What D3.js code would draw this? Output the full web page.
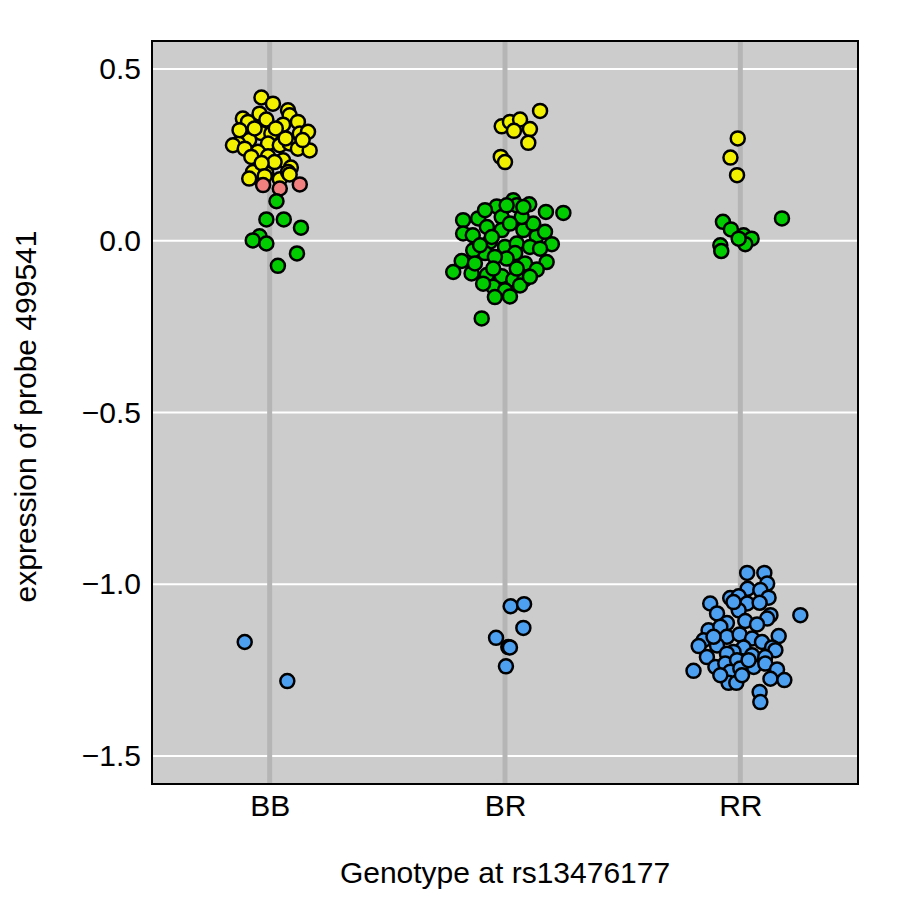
<!DOCTYPE html>
<html><head><meta charset="utf-8">
<script src="https://cdn.jsdelivr.net/npm/d3@7"></script>
<style>body{margin:0;background:#fff}</style>
</head><body>
<svg id="chart" width="900" height="900"></svg>
<script>
const genotypes = ["BB","BR","RR"];
const yTicks = [0.5, 0.0, -0.5, -1.0, -1.5];
const yTickLabels = ["0.5","0.0","\u22120.5","\u22121.0","\u22121.5"];
const xTitle = "Genotype at rs13476177";
const yTitle = "expression of probe 499541";
const groupColors = {yellow:"#f2f200", pink:"#f08080", green:"#00cc00", blue:"#4d9ff0"};

// each point: [genotype, jitter offset, expression]
const yellowPts = [
["BB",-0.035,0.417],["BB",0.014,0.399],["BB",0.078,0.380],["BB",0.085,0.365],["BB",-0.114,0.356],
["BB",-0.092,0.346],["BB",-0.043,0.370],["BB",-0.014,0.353],["BB",0.057,0.338],["BB",0.120,0.346],
["BB",0.128,0.312],["BB",0.163,0.317],["BB",-0.037,0.314],["BB",0.007,0.312],["BB",-0.087,0.293],
["BB",-0.134,0.283],["BB",-0.156,0.278],["BB",-0.007,0.283],["BB",0.043,0.278],["BB",0.085,0.283],
["BB",0.120,0.268],["BB",0.170,0.263],["BB",-0.106,0.268],["BB",-0.050,0.259],["BB",-0.078,0.244],
["BB",-0.007,0.246],["BB",0.057,0.234],["BB",0.021,0.229],["BB",0.090,0.213],["BB",-0.071,0.200],
["BB",-0.014,0.196],["BB",0.043,0.179],["BB",-0.087,0.181],["BB",0.078,0.200],["BB",0.026,0.327],
["BB",-0.064,0.327],["BB",0.068,0.298],["BB",-0.034,0.226],["BB",0.140,0.293],["BB",-0.128,0.322],
["BB",-0.021,0.188],["BB",0.085,0.193],
["BR",0.149,0.378],["BR",-0.014,0.333],["BR",0.021,0.346],["BR",0.064,0.353],["BR",0.038,0.320],
["BR",0.106,0.325],["BR",0.099,0.285],["BR",-0.018,0.244],["BR",0.000,0.229],
["RR",-0.011,0.298],["RR",-0.042,0.242],["RR",-0.014,0.191]
];
const pinkPts = [
["BB",-0.028,0.162],["BB",0.043,0.152],["BB",0.128,0.164]
];
const greenPts = [
["BB",0.029,0.115],["BB",-0.014,0.062],["BB",0.060,0.062],["BB",0.133,0.038],["BB",-0.043,0.013],
["BB",-0.072,0.001],["BB",-0.014,-0.008],["BB",0.116,-0.037],["BB",0.035,-0.073],
["BR",-0.099,-0.226],["BR",0.248,0.081],["BR",0.174,0.084],["BR",0.103,0.106],["BR",0.035,0.118],
["BR",0.050,0.103],["BR",-0.035,0.100],["BR",-0.014,0.069],["BR",-0.114,0.065],["BR",-0.178,0.060],
["BR",-0.178,0.021],["BR",-0.137,0.016],["BR",-0.077,0.040],["BR",0.078,0.031],["BR",0.135,0.013],
["BR",0.170,0.026],["BR",0.199,-0.010],["BR",-0.014,0.031],["BR",-0.064,-0.003],["BR",0.000,-0.018],
["BR",0.050,-0.008],["BR",0.106,-0.018],["BR",-0.085,-0.036],["BR",0.043,-0.036],["BR",-0.135,-0.028],
["BR",-0.184,-0.059],["BR",-0.220,-0.091],["BR",-0.142,-0.095],["BR",0.177,-0.062],["BR",0.085,-0.066],
["BR",0.135,-0.084],["BR",-0.077,-0.100],["BR",-0.014,-0.103],["BR",0.035,-0.113],["BR",0.082,-0.113],
["BR",-0.050,-0.134],["BR",0.000,-0.144],["BR",-0.043,-0.164],["BR",0.021,-0.162],["BR",0.064,-0.130],
["BR",0.007,-0.052],["BR",-0.043,-0.047],["BR",-0.106,-0.013],["BR",0.120,0.050],["BR",0.071,0.069],
["BR",0.021,0.050],["BR",-0.056,0.011],["BR",-0.128,-0.066],["BR",-0.050,-0.081],["BR",0.050,-0.081],
["BR",0.149,-0.023],["BR",0.106,-0.105],["BR",-0.093,-0.125],["BR",-0.085,0.089],["BR",0.007,0.103],
["BR",0.078,0.098],
["RR",-0.074,0.055],["RR",-0.040,0.033],["RR",0.014,0.016],["RR",0.048,0.006],["RR",0.021,-0.010],
["RR",-0.085,-0.013],["RR",-0.081,-0.030],["RR",0.177,0.065],["RR",-0.007,0.006]
];
const bluePts = [
["BB",-0.106,-1.168],["BB",0.075,-1.282],
["BR",0.024,-1.064],["BR",0.081,-1.058],["BR",0.078,-1.127],["BR",-0.038,-1.156],["BR",0.014,-1.183],
["BR",0.021,-1.184],["BR",0.004,-1.239],
["RR",0.029,-0.967],["RR",0.102,-0.967],["RR",0.114,-0.998],["RR",0.031,-1.013],["RR",0.085,-1.017],
["RR",-0.043,-1.040],["RR",-0.007,-1.035],["RR",0.120,-1.039],["RR",-0.128,-1.056],["RR",0.029,-1.056],
["RR",0.082,-1.054],["RR",0.255,-1.090],["RR",-0.099,-1.085],["RR",-0.007,-1.076],["RR",0.128,-1.090],
["RR",0.114,-1.100],["RR",-0.057,-1.113],["RR",0.021,-1.107],["RR",0.071,-1.117],["RR",-0.135,-1.134],
["RR",-0.085,-1.124],["RR",0.163,-1.151],["RR",-0.057,-1.153],["RR",-0.003,-1.146],["RR",0.050,-1.158],
["RR",0.092,-1.168],["RR",-0.156,-1.163],["RR",-0.177,-1.180],["RR",-0.099,-1.178],["RR",0.014,-1.184],
["RR",0.135,-1.184],["RR",0.149,-1.192],["RR",-0.029,-1.197],["RR",-0.057,-1.202],["RR",0.050,-1.207],
["RR",0.106,-1.212],["RR",-0.142,-1.212],["RR",-0.199,-1.252],["RR",-0.106,-1.241],["RR",-0.064,-1.231],
["RR",-0.014,-1.221],["RR",0.057,-1.241],["RR",0.106,-1.231],["RR",0.156,-1.248],["RR",0.128,-1.275],
["RR",0.187,-1.279],["RR",-0.043,-1.255],["RR",0.000,-1.245],["RR",-0.050,-1.287],["RR",-0.017,-1.287],
["RR",0.007,-1.265],["RR",0.082,-1.314],["RR",0.085,-1.343],["RR",-0.085,-1.265],["RR",0.035,-1.221],
["RR",-0.114,-1.153],["RR",-0.029,-1.052]
];

const svg = d3.select("#chart");
const L = 152, R = 858, T = 41, B = 784;
const FONT = "Liberation Sans, Arial, Helvetica, sans-serif";
const x = d3.scaleLinear().domain([0.5, 3.5]).range([L, R]);
const xPos = g => genotypes.indexOf(g) + 1;
const y = d3.scaleLinear().domain([-1.5815, 0.5815]).range([B, T]);

svg.append("rect").attr("x", L).attr("y", T).attr("width", R - L).attr("height", B - T)
  .attr("fill", "#cccccc");

svg.append("g").selectAll("line").data(yTicks).join("line")
  .attr("x1", L).attr("x2", R).attr("y1", d => y(d)).attr("y2", d => y(d))
  .attr("stroke", "#ffffff").attr("stroke-width", 2);

svg.append("g").selectAll("line").data(genotypes).join("line")
  .attr("x1", d => x(xPos(d))).attr("x2", d => x(xPos(d))).attr("y1", T).attr("y2", B)
  .attr("stroke", "#b5b5b5").attr("stroke-width", 5);

const layers = [["yellow", yellowPts], ["pink", pinkPts], ["green", greenPts], ["blue", bluePts]];
layers.forEach(([c, pts]) => {
  svg.append("g").selectAll("circle").data(pts).join("circle")
    .attr("cx", d => x(xPos(d[0]) + d[1])).attr("cy", d => y(d[2]))
    .attr("r", 7).attr("fill", groupColors[c]).attr("stroke", "#000").attr("stroke-width", 2.5);
});

svg.append("rect").attr("x", L).attr("y", T).attr("width", R - L).attr("height", B - T)
  .attr("fill", "none").attr("stroke", "#000").attr("stroke-width", 2);

const yAxis = d3.axisLeft(y).tickValues(yTicks).tickSize(0).tickPadding(11)
  .tickFormat((d, i) => yTickLabels[i]);
const gy = svg.append("g").attr("transform", `translate(${L},0)`).call(yAxis);
gy.select(".domain").remove();
gy.selectAll("text").attr("font-family", FONT).attr("font-size", 30).attr("fill", "#000");

const xAxis = d3.axisBottom(x).tickValues([1, 2, 3]).tickSize(0).tickPadding(11)
  .tickFormat(d => genotypes[d - 1]);
const gx = svg.append("g").attr("transform", `translate(0,${B})`).call(xAxis);
gx.select(".domain").remove();
gx.selectAll("text").attr("font-family", FONT).attr("font-size", 30).attr("fill", "#000");

svg.append("text").attr("x", (L + R) / 2).attr("y", 883).attr("text-anchor", "middle")
  .attr("font-family", FONT).attr("font-size", 30)
  .text(xTitle);
svg.append("text").attr("transform", `translate(36,${(T + B) / 2 + 4}) rotate(-90)`).attr("text-anchor", "middle")
  .attr("font-family", FONT).attr("font-size", 30)
  .text(yTitle);
</script>
</body></html>
